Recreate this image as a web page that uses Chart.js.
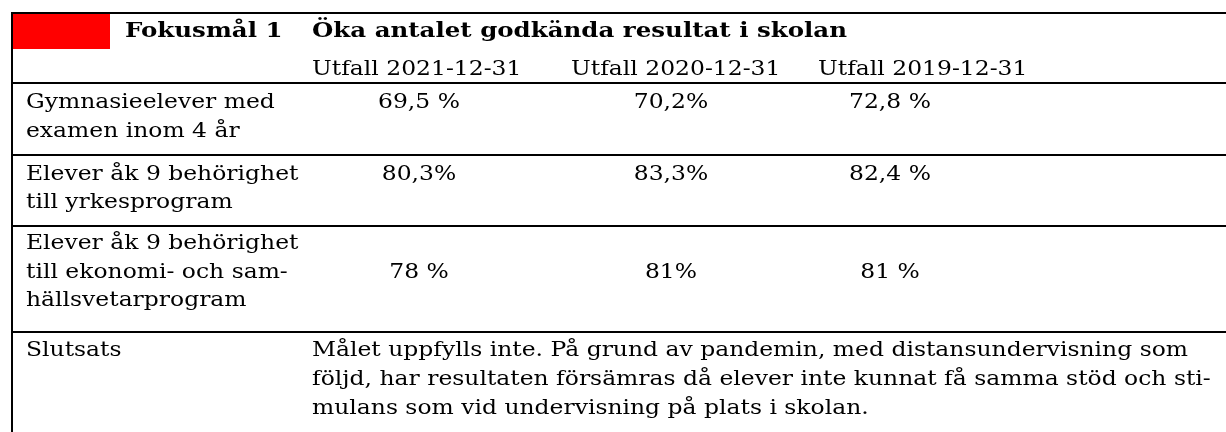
<!DOCTYPE html>
<html>
<head>
<meta charset="utf-8">
<script src="https://cdn.jsdelivr.net/npm/chart.js@4"></script>
<style>
  html, body { margin: 0; padding: 0; background: #fff; }
  #wrap { width: 1226px; height: 432px; position: relative; }
</style>
</head>
<body>
<div id="wrap"><canvas id="tableChart"></canvas></div>
<script>
// table content
var focusLabel = 'Fokusmål 1';
var goalTitle = 'Öka antalet godkända resultat i skolan';
var periods = ['Utfall 2021-12-31', 'Utfall 2020-12-31', 'Utfall 2019-12-31'];
var indicators = [
  ['Gymnasieelever med', 'examen inom 4 år'],
  ['Elever åk 9 behörighet', 'till yrkesprogram'],
  ['Elever åk 9 behörighet', 'till ekonomi- och sam-', 'hällsvetarprogram']
];
var outcome2021 = ['69,5 %', '80,3%', '78 %'];
var outcome2020 = ['70,2%', '83,3%', '81%'];
var outcome2019 = ['72,8 %', '82,4 %', '81 %'];
var conclusionLabel = 'Slutsats';
var conclusion = [
  'Målet uppfylls inte. På grund av pandemin, med distansundervisning som',
  'följd, har resultaten försämras då elever inte kunnat få samma stöd och sti-',
  'mulans som vid undervisning på plats i skolan.'
];

// layout (page units, mapped by the x/y scales)
var W = 1226, H = 432;
var leftEdge = 12, topEdge = 13;
var ruleY = [13, 83, 155, 226, 332];
var labelX = 26, textX = 312, focusX = 125;
var periodX = [312, 571, 818];
var valueCenterX = [419, 671, 890];
var headBase = [37, 75];
var rowBase = [[108, 137], [180, 208], [249, 278, 306]];
var valueLine = [0, 0, 1];
var conclusionBase = [356, 385, 414];
var redBox = { x0: 12, x1: 110, y0: 13, y1: 49 };
var fontFamily = '"DejaVu Serif", "Liberation Serif", serif';
var fontSize = 20;

var outcomes = [outcome2021, outcome2020, outcome2019];
var datasets = outcomes.map(function(col, c) {
  return {
    label: periods[c],
    data: col.map(function(v, r) {
      return { x: valueCenterX[c], y: rowBase[r][valueLine[r]], text: v };
    }),
    pointRadius: 0,
    showLine: false
  };
});

var tablePlugin = {
  id: 'tablePlugin',
  afterDraw: function(chart) {
    var ctx = chart.ctx;
    var xs = chart.scales.x, ys = chart.scales.y;
    var px = function(v) { return xs.getPixelForValue(v); };
    var py = function(v) { return ys.getPixelForValue(v); };

    ctx.save();
    // red marker
    ctx.fillStyle = '#ff0000';
    ctx.fillRect(px(redBox.x0), py(redBox.y0), px(redBox.x1) - px(redBox.x0), py(redBox.y1) - py(redBox.y0));

    // rules
    ctx.strokeStyle = '#000';
    ctx.lineWidth = 2;
    ruleY.forEach(function(y) {
      ctx.beginPath();
      ctx.moveTo(px(leftEdge) - 1, Math.round(py(y)));
      ctx.lineTo(px(W), Math.round(py(y)));
      ctx.stroke();
    });
    ctx.beginPath();
    ctx.moveTo(Math.round(px(leftEdge)), py(topEdge));
    ctx.lineTo(Math.round(px(leftEdge)), py(H));
    ctx.stroke();

    // font widths scaled to match the reference typeface
    var regular = fontSize + 'px ' + fontFamily;
    var bold = 'bold ' + fontSize + 'px ' + fontFamily;
    ctx.font = regular;
    var sxR = 876 / ctx.measureText(conclusion[0]).width;
    ctx.font = bold;
    var sxB = 535 / ctx.measureText(goalTitle).width;

    ctx.fillStyle = '#000';
    ctx.textBaseline = 'alphabetic';
    function put(text, x, y, isBold, center) {
      ctx.font = isBold ? bold : regular;
      var sx = isBold ? sxB : sxR;
      var w = ctx.measureText(text).width * sx;
      ctx.save();
      ctx.translate(center ? x - w / 2 : x, y);
      ctx.scale(sx, 1);
      ctx.textAlign = 'left';
      ctx.fillText(text, 0, 0);
      ctx.restore();
    }

    put(focusLabel, px(focusX), py(headBase[0]), true);
    put(goalTitle, px(textX), py(headBase[0]), true);
    periods.forEach(function(p, i) { put(p, px(periodX[i]), py(headBase[1])); });

    indicators.forEach(function(lines, r) {
      lines.forEach(function(t, k) { put(t, px(labelX), py(rowBase[r][k])); });
    });

    chart.data.datasets.forEach(function(ds, i) {
      chart.getDatasetMeta(i).data.forEach(function(el, j) {
        put(ds.data[j].text, el.x, el.y, false, true);
      });
    });

    put(conclusionLabel, px(labelX), py(conclusionBase[0]));
    conclusion.forEach(function(t, k) { put(t, px(textX), py(conclusionBase[k])); });
    ctx.restore();
  }
};

var ctx = document.getElementById('tableChart').getContext('2d');
new Chart(ctx, {
  type: 'scatter',
  data: { datasets: datasets },
  options: {
    responsive: true,
    maintainAspectRatio: false,
    animation: false,
    layout: { padding: 0 },
    plugins: { legend: { display: false }, tooltip: { enabled: false } },
    scales: {
      x: { type: 'linear', min: 0, max: W, display: false },
      y: { type: 'linear', min: 0, max: H, reverse: true, display: false }
    }
  },
  plugins: [tablePlugin]
});
</script>
</body>
</html>
